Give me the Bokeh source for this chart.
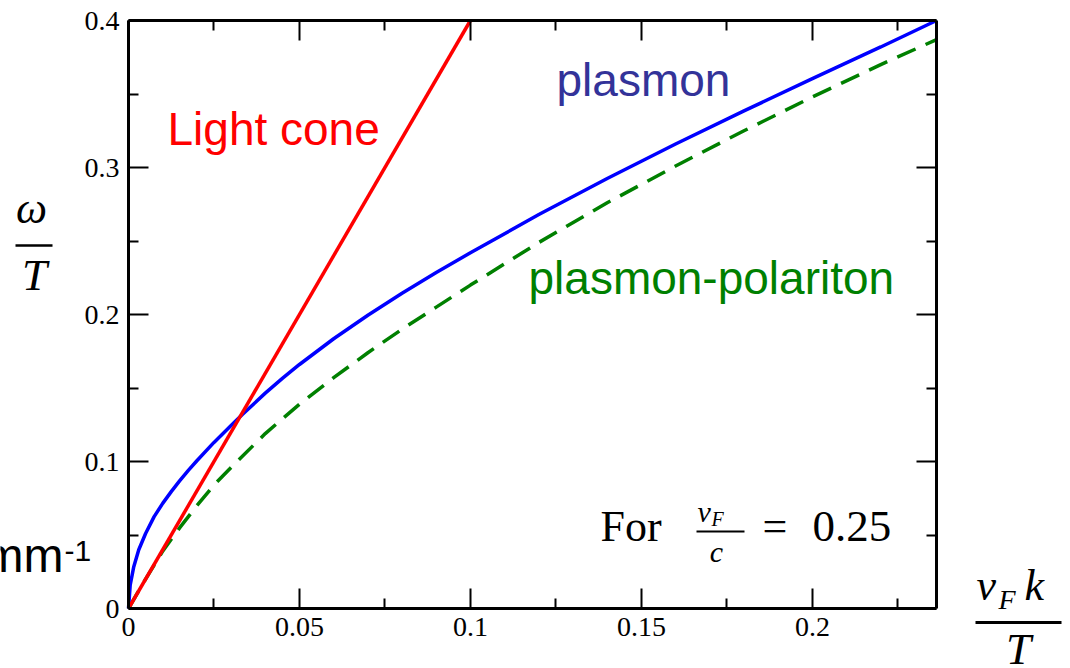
from bokeh.plotting import figure
from bokeh.models import Range1d, LinearAxis, FixedTicker, Label, Arrow
from bokeh.embed import file_html
from bokeh.resources import INLINE

# ---- data ----
light_k = [0.0, 0.1]
light_w = [0.0, 0.4]

plasmon_k = [0.0, 0.0005, 0.0015, 0.003, 0.005, 0.0075, 0.01, 0.0125, 0.015, 0.0175,
             0.02, 0.025, 0.03, 0.0333, 0.04, 0.045, 0.05, 0.06, 0.07, 0.08,
             0.09, 0.10, 0.12, 0.14, 0.16, 0.18, 0.20, 0.22, 0.2363]
plasmon_w = [0.0, 0.016, 0.028, 0.040, 0.051, 0.0625, 0.0715, 0.0795, 0.087, 0.094,
             0.1005, 0.113, 0.1245, 0.132, 0.1465, 0.1565, 0.166, 0.1835, 0.1995, 0.2145,
             0.2285, 0.242, 0.268, 0.2925, 0.316, 0.3385, 0.3605, 0.382, 0.400]

polariton_k = [0.0, 0.005, 0.01, 0.015, 0.02, 0.025, 0.03, 0.04, 0.05, 0.06,
               0.07, 0.08, 0.09, 0.10, 0.12, 0.14, 0.16, 0.18, 0.20, 0.22, 0.2363]
polariton_w = [0.0, 0.020, 0.039, 0.055, 0.070, 0.084, 0.096, 0.119, 0.139, 0.157,
               0.174, 0.190, 0.205, 0.220, 0.249, 0.276, 0.301, 0.325, 0.348, 0.370, 0.387]

x_ticks = [0.0, 0.05, 0.1, 0.15, 0.2]
x_tick_labels = ["0", "0.05", "0.1", "0.15", "0.2"]
x_minor_ticks = [0.025, 0.075, 0.125, 0.175, 0.225]
y_ticks = [0.0, 0.1, 0.2, 0.3, 0.4]
y_tick_labels = ["0", "0.1", "0.2", "0.3", "0.4"]
y_minor_ticks = [0.05, 0.15, 0.25, 0.35]

X_MAX = 0.2363
Y_MAX = 0.4

# ---- layout: the frame covers the whole canvas; the plot box sits inside it ----
W, H = 1070, 668
BL, BR, BT, BB = 128, 936, 20, 608   # plot box edges in pixels


def px_x(px):
    return (px - BL) / (BR - BL) * X_MAX


def px_y(py):
    return (BB - py) / (BB - BT) * Y_MAX


p = figure(width=W, height=H,
           x_range=Range1d(px_x(0), px_x(W)), y_range=Range1d(px_y(H), px_y(0)),
           output_backend="svg", toolbar_location=None,
           x_axis_location=None, y_axis_location=None,
           min_border_left=0, min_border_right=0, min_border_top=0, min_border_bottom=0)
p.outline_line_color = None
p.background_fill_color = "white"
p.border_fill_color = "white"
for g in p.grid:
    g.visible = False


def make_axis(ticks, minor, labels, loc, bounds):
    ax = LinearAxis(ticker=FixedTicker(ticks=ticks, minor_ticks=minor),
                    fixed_location=loc, bounds=bounds)
    ax.major_tick_in = 20
    ax.major_tick_out = 0
    ax.minor_tick_in = 10
    ax.minor_tick_out = 0
    ax.major_tick_line_width = 2
    ax.minor_tick_line_width = 2
    ax.axis_line_width = 3
    ax.axis_line_color = "black"
    if labels is not None:
        ax.major_label_overrides = {t: s for t, s in zip(ticks, labels)}
        ax.major_label_text_font = "Liberation Serif"
        ax.major_label_text_font_size = "28px"
        ax.major_label_text_color = "black"
        ax.major_label_standoff = 9
    else:
        ax.major_label_text_color = None
        ax.major_label_text_font_size = "1px"
        ax.major_label_standoff = 0
    return ax


p.add_layout(make_axis(x_ticks, x_minor_ticks, x_tick_labels, 0.0, (0.0, X_MAX)), "below")
p.add_layout(make_axis(y_ticks, y_minor_ticks, y_tick_labels, 0.0, (0.0, Y_MAX)), "left")
p.add_layout(make_axis(x_ticks, x_minor_ticks, None, Y_MAX, (0.0, X_MAX)), "above")
p.add_layout(make_axis(y_ticks, y_minor_ticks, None, X_MAX, (0.0, Y_MAX)), "right")

# ---- curves ----
p.line(polariton_k, polariton_w, line_color="#008000", line_width=3.5, line_dash="20 11")
p.line(plasmon_k, plasmon_w, line_color="#0000ff", line_width=3.5)
p.line(light_k, light_w, line_color="#ff0000", line_width=3.5)


# ---- annotations ----
def lab(px, py, text, size, color="black", font="Liberation Sans", style="normal", align="left"):
    py = py - 0.38 * size  # baseline correction
    p.add_layout(Label(x=px_x(px), y=px_y(py), text=text, text_font=font,
                       text_font_size=f"{size}px", text_color=color, text_font_style=style,
                       text_align=align, text_baseline="alphabetic"))


def bar(x0, x1, y, w):
    p.add_layout(Arrow(start=None, end=None,
                       x_start=px_x(x0), y_start=px_y(y), x_end=px_x(x1), y_end=px_y(y),
                       line_width=w, line_color="black"))


lab(167, 146, "Light cone", 46, "#ff0000")
lab(556, 97, "plasmon", 46, "#333399")
lab(528, 295, "plasmon-polariton", 46, "#008000")

# For vF/c = 0.25
lab(600, 543, "For", 44, font="Liberation Serif")
lab(697, 522, "v", 30, font="Liberation Serif", style="italic")
lab(711, 526, "F", 20, font="Liberation Serif", style="italic")
bar(696, 744, 531, 2)
lab(716, 562, "c", 30, font="Liberation Serif", style="italic", align="center")
lab(762, 543, "=", 44, font="Liberation Serif")
lab(812, 543, "0.25", 45, font="Liberation Serif")

# y label omega / T
lab(31, 225, "ω", 44, font="Liberation Serif", style="italic", align="center")
bar(15, 52, 245, 2.5)
lab(34, 292, "T", 45, font="Liberation Serif", style="italic", align="center")

# x label vF k / T
lab(976, 602, "v", 44, font="Liberation Serif", style="italic")
lab(998, 610, "F", 28, font="Liberation Serif", style="italic")
lab(1024, 602, "k", 44, font="Liberation Serif", style="italic")
bar(975, 1061, 622, 3)
lab(1018, 666, "T", 45, font="Liberation Serif", style="italic", align="center")

# mm-1
lab(63, 573, "mm", 48, align="right")
lab(64, 562, "-1", 30)

open("out.html", "w").write(file_html(p, INLINE))
